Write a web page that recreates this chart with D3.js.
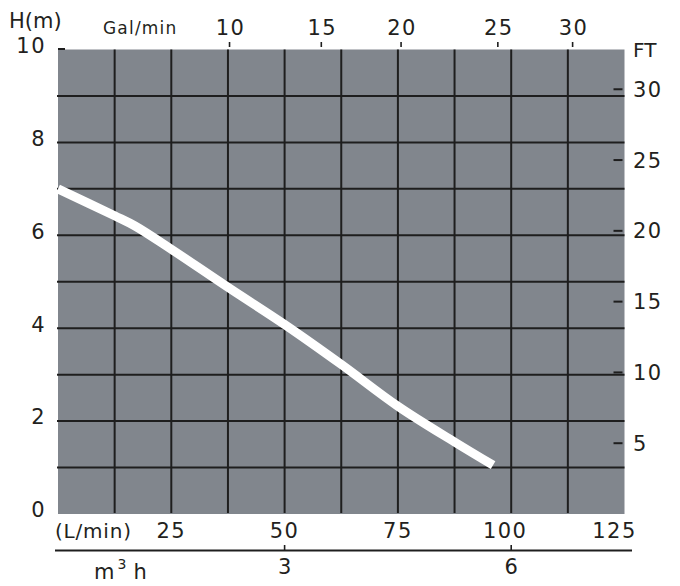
<!DOCTYPE html>
<html><head><meta charset="utf-8">
<script src="https://cdn.jsdelivr.net/npm/d3@7"></script>
<style>
body{margin:0;background:#fff}
svg{display:block}
text{font-family:"DejaVu Sans",Verdana,sans-serif;fill:#231f20}
</style>
</head><body><svg id="c" width="680" height="586"></svg>
<script>
// Data
const flowLmin = [0, 12.5, 17, 25, 37.5, 50, 62.5, 75, 87.5, 96];
const headM    = [7.0, 6.42, 6.2, 5.7, 4.88, 4.08, 3.22, 2.32, 1.55, 1.05];
const headTicks = [0, 2, 4, 6, 8, 10];
const ftTicks = [5, 10, 15, 20, 25, 30];
const galTicks = [10, 15, 20, 25, 30];
const lminTicks = [25, 50, 75, 100, 125];
const m3hTicks = [3, 6];
const gridLmin = [12.5, 25, 37.5, 50, 62.5, 75, 87.5, 100, 112.5];
const gridHead = [1, 2, 3, 4, 5, 6, 7, 8, 9];

const svg = d3.select("#c");
const x = d3.scaleLinear([0, 125], [58, 624.5]);
const y = d3.scaleLinear([0, 10], [514, 49.5]);
const xGal = d3.scaleLinear([0, 125 / 3.785], [58, 624.5]);
const yFt = d3.scaleLinear([0, 10 / 0.3048], [514, 49.5]);
const xM3 = d3.scaleLinear([0, 125 * 0.06], [58, 624.5]);
const ink = "#1e1e1e";
const numSize = 21, numLs = 1.5;

// plot background
svg.append("rect").attr("x", x(0)).attr("y", y(10))
  .attr("width", x(125) - x(0)).attr("height", y(0) - y(10))
  .attr("fill", "#81868d");

// grid
svg.append("g").selectAll("line").data(gridLmin).join("line")
  .attr("x1", d => x(d)).attr("x2", d => x(d))
  .attr("y1", y(10)).attr("y2", y(0) - 1)
  .attr("stroke", ink).attr("stroke-width", 2);
svg.append("g").selectAll("line").data(gridHead).join("line")
  .attr("x1", x(0) - 1).attr("x2", x(125))
  .attr("y1", d => y(d)).attr("y2", d => y(d))
  .attr("stroke", ink).attr("stroke-width", 2);

// left axis (H m)
const lftAxis = svg.append("g");
lftAxis.selectAll("text").data(headTicks).join("text")
  .attr("x", 46).attr("y", d => y(d) - 4).attr("dy", "0.35em")
  .attr("text-anchor", "end").attr("font-size", numSize).attr("letter-spacing", numLs)
  .text(d => d);
lftAxis.selectAll("line").data(headTicks.filter(d => d === 10)).join("line")
  .attr("x1", x(0)).attr("x2", x(0) + 7)
  .attr("y1", d => y(d) - 0.5).attr("y2", d => y(d) - 0.5)
  .attr("stroke", ink).attr("stroke-width", 2);
svg.append("text").attr("x", 9).attr("y", 28).attr("font-size", 21).text("H(m)");

// right axis (FT)
const rgtAxis = svg.append("g");
rgtAxis.selectAll("line").data(ftTicks).join("line")
  .attr("x1", x(125) - 11).attr("x2", x(125) - 2)
  .attr("y1", d => yFt(d)).attr("y2", d => yFt(d))
  .attr("stroke", ink).attr("stroke-width", 2);
rgtAxis.selectAll("text").data(ftTicks).join("text")
  .attr("x", 633).attr("y", d => yFt(d)).attr("dy", "0.36em")
  .attr("font-size", numSize).attr("letter-spacing", numLs)
  .text(d => d);
svg.append("text").attr("x", 633).attr("y", 57).attr("font-size", 20).text("FT");

// top axis (Gal/min)
const galShift = {15: 6, 25: 11};
const galAxis = svg.append("g");
galAxis.selectAll("line").data(galTicks).join("line")
  .attr("x1", d => xGal(d) + (galShift[d] || 0)).attr("x2", d => xGal(d) + (galShift[d] || 0))
  .attr("y1", 42).attr("y2", 47)
  .attr("stroke", ink).attr("stroke-width", 1.6);
galAxis.selectAll("text").data(galTicks).join("text")
  .attr("x", d => xGal(d) + (galShift[d] || 0) + 1).attr("y", 35)
  .attr("text-anchor", "middle").attr("font-size", numSize).attr("letter-spacing", numLs)
  .text(d => d);
svg.append("text").attr("x", 103).attr("y", 34).attr("font-size", 17)
  .attr("letter-spacing", 1.2).text("Gal/min");

// bottom L/min labels
const lminShift = {100: -6, 125: -10};
svg.append("g").selectAll("text").data(lminTicks).join("text")
  .attr("x", d => x(d) + (lminShift[d] || 0)).attr("y", 538)
  .attr("text-anchor", "middle").attr("font-size", numSize).attr("letter-spacing", numLs)
  .text(d => d);
svg.append("text").attr("x", 55).attr("y", 538).attr("font-size", 20)
  .attr("letter-spacing", 0.8).text("(L/min)");

// m3/h axis
svg.append("line").attr("x1", 55).attr("x2", 632)
  .attr("y1", 550.5).attr("y2", 550.5).attr("stroke", ink).attr("stroke-width", 2);
const m3Axis = svg.append("g");
m3Axis.selectAll("line").data(m3hTicks).join("line")
  .attr("x1", d => xM3(d)).attr("x2", d => xM3(d))
  .attr("y1", 545).attr("y2", 550)
  .attr("stroke", ink).attr("stroke-width", 1.6);
m3Axis.selectAll("text").data(m3hTicks).join("text")
  .attr("x", d => xM3(d)).attr("y", 574)
  .attr("text-anchor", "middle").attr("font-size", numSize)
  .text(d => d);
const mh = svg.append("text").attr("x", 94).attr("y", 579).attr("font-size", 21);
mh.append("tspan").text("m");
mh.append("tspan").attr("font-size", 14).attr("dy", -10).attr("dx", 3).text("3");
mh.append("tspan").attr("dy", 10).attr("dx", 7).text("h");

// curve
const pts = flowLmin.map((f, i) => [f, headM[i]]);
svg.append("path").datum(pts)
  .attr("d", d3.line().x(d => x(d[0])).y(d => y(d[1])).curve(d3.curveCatmullRom.alpha(0.5)))
  .attr("fill", "none").attr("stroke", "#fff").attr("stroke-width", 9)
  .attr("stroke-linecap", "butt");
</script>
</body></html>
